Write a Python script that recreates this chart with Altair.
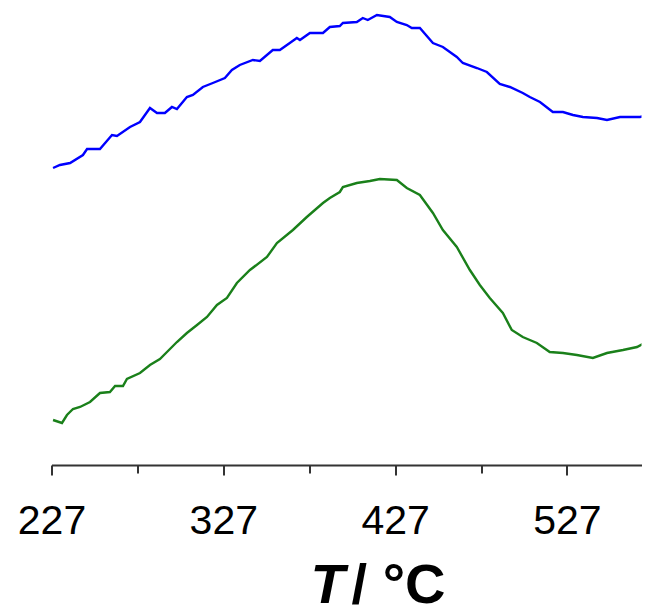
import altair as alt
import pandas as pd

# Temperature (°C) and intensity (arbitrary units) for the two traces
blue_T = [227.9, 231.9, 237.8, 245.3, 247.7, 255.2, 262.2, 265.1, 272.7, 278.5,
          284.3, 288.4, 293.0, 297.1, 300.0, 305.8, 309.3, 315.1, 320.9, 327.9,
          332.0, 336.6, 344.2, 348.3, 355.8, 359.9, 365.7, 369.8, 371.6, 377.4,
          385.0, 389.0, 394.8, 396.6, 404.7, 408.2, 411.1, 416.4, 423.9, 428.0,
          433.8, 436.7, 441.4, 449.0, 454.8, 462.9, 466.4, 474.6, 480.4, 487.9,
          493.8, 501.3, 505.4, 511.3, 518.8, 524.7, 530.5, 536.3, 544.5, 550.3,
          557.9, 563.7, 569.5, 575.3]
blue_I = [297, 300, 302, 310, 316, 316, 330, 329, 338, 343,
          357, 352, 352, 358, 356, 368, 370, 378, 382, 387,
          395, 400, 405, 404, 415, 415, 422, 427, 425, 432,
          432, 438, 439, 442, 443, 447, 445, 450, 448, 443,
          440, 437, 437, 422, 418, 408, 402, 397, 393, 381,
          378, 372, 368, 363, 353, 353, 350, 348, 347, 345,
          348, 348, 348, 350]

green_T = [227.9, 233.1, 236.0, 239.5, 243.6, 249.4, 255.2, 261.0, 264.0, 268.6,
           270.9, 278.5, 284.3, 290.1, 294.2, 300.0, 305.8, 311.7, 317.5, 323.3,
           329.1, 334.9, 342.5, 352.4, 358.2, 367.5, 375.6, 385.0, 389.0, 394.8,
           396.6, 404.7, 412.3, 418.1, 428.0, 433.8, 441.4, 449.0, 454.8, 462.9,
           470.5, 476.3, 482.1, 489.7, 494.9, 501.3, 509.5, 517.0, 524.7, 532.8,
           542.1, 550.3, 559.6, 567.8, 575.3]
green_I = [45, 42, 50, 56, 58, 63, 72, 73, 79, 79,
           86, 92, 100, 106, 113, 123, 132, 140, 148, 160,
           167, 182, 195, 208, 222, 235, 248, 262, 267, 273,
           278, 282, 284, 286, 285, 277, 270, 252, 235, 218,
           195, 180, 167, 152, 135, 128, 122, 113, 112, 110,
           107, 112, 115, 118, 125]

tick_values = [227, 277, 327, 377, 427, 477, 527]
series_names = ["blue", "green"]
series_colors = ["#0000ff", "#1a801a"]

df = pd.concat([
    pd.DataFrame({"T": blue_T, "I": blue_I, "s": "blue"}),
    pd.DataFrame({"T": green_T, "I": green_I, "s": "green"}),
])

x_scale = alt.Scale(domain=[227, 570.4], nice=False, zero=False)

lines = alt.Chart(df).mark_line(strokeWidth=2.4, clip=True).encode(
    x=alt.X("T:Q", scale=x_scale,
            axis=alt.Axis(values=tick_values, grid=False, title=None,
                          labelExpr="datum.value % 100 == 27 ? datum.label : ''",
                          labelFont="Liberation Sans", labelFontSize=41,
                          labelColor="#000000", labelPadding=26,
                          tickSize={"condition": {"test": "datum.value % 100 == 27", "value": 10}, "value": 8},
                          tickColor="#333333", tickWidth=2,
                          domainColor="#333333", domainWidth=2,
                          labelFlush=False, labelOverlap=False)),
    y=alt.Y("I:Q", scale=alt.Scale(domain=[0, 457], nice=False), axis=None),
    color=alt.Color("s:N", scale=alt.Scale(domain=series_names, range=series_colors), legend=None),
    detail="s:N",
)

t_italic = alt.Chart(pd.DataFrame({"t": ["T"]})).mark_text(
    font="Liberation Sans", fontSize=56, fontWeight="bold", fontStyle="italic",
    align="left", baseline="alphabetic", color="#000000",
).encode(x=alt.value(259), y=alt.value(595), text="t:N")

t_rest = alt.Chart(pd.DataFrame({"t": ["/ °C"]})).mark_text(
    font="Liberation Sans", fontSize=56, fontWeight="bold",
    align="right", baseline="alphabetic", color="#000000",
).encode(x=alt.value(394), y=alt.value(595), text="t:N")

chart = alt.layer(lines, t_italic, t_rest).properties(
    width=590, height=457,
    autosize=alt.AutoSizeParams(type="none"),
    padding={"left": 43.5, "top": 0, "right": 0, "bottom": 160},
).configure_view(strokeWidth=0)

chart.save("out.html", embed_options={"renderer": "svg", "actions": False})
